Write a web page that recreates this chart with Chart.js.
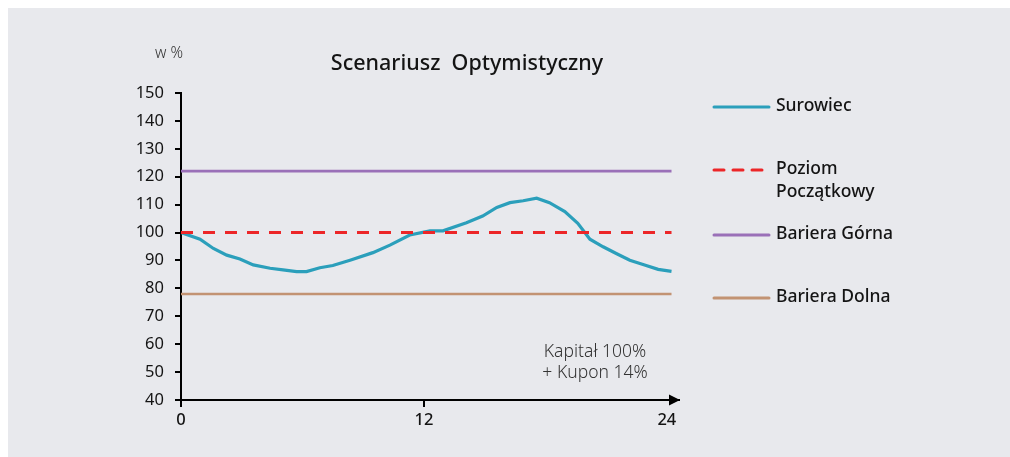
<!DOCTYPE html>
<html>
<head>
<meta charset="utf-8">
<script src="https://cdn.jsdelivr.net/npm/chart.js@4"></script>
<style>
  html, body { margin: 0; padding: 0; background: #fff; }
  #wrap { width: 1010px; height: 457px; position: relative; }
</style>
</head>
<body>
<div id="wrap"><canvas id="chart" width="1010" height="457"></canvas></div>
<script>
// months since start and the underlying price (in %)
const months = [0, 0.94, 1.6, 2.26, 2.91, 3.57, 4.4, 5.04, 5.71, 6.2, 6.86, 7.5, 8.35, 9.48, 10.32, 11.3,
  12.3, 12.94, 14.1, 14.9, 15.6, 16.25, 16.9, 17.57, 18.2, 18.96, 19.6, 20.2, 20.85, 21.5, 22.17, 22.9, 23.57, 24.23];
const surowiec = [100, 97.6, 94.3, 91.9, 90.5, 88.4, 87.2, 86.6, 86.0, 86.0, 87.4, 88.2, 90.1, 92.8, 95.5, 99.1,
  100.6, 100.6, 103.5, 105.9, 109, 110.7, 111.4, 112.3, 110.7, 107.5, 103.3, 97.6, 94.9, 92.5, 90.1, 88.4, 86.8, 86.1];

const levelSpan = [0, 24.23];
const poziomPoczatkowy = 100;
const barieraGorna = 122;
const barieraDolna = 78;

const yTicks = { min: 40, max: 150, step: 10 };
const xTickValues = [0, 12, 24];

const title = 'Scenariusz  Optymistyczny';
const unitLabel = 'w %';
const note = ['Kapitał 100%', '+ Kupon 14%'];

const FONT = '"Noto Sans", "Open Sans", sans-serif';
const INK = '#141414';

const toXY = (xs, ys) => xs.map((x, i) => ({ x: x, y: ys[i] }));
const flat = v => toXY(levelSpan, levelSpan.map(() => v));

// ===== background, title, arrow, legend, note =====
const decorPlugin = {
  id: 'decor',
  beforeDraw(chart) {
    const ctx = chart.ctx;
    ctx.save();
    ctx.fillStyle = '#e8e9ed';
    ctx.fillRect(8, 8, chart.width - 8, chart.height - 8);
    ctx.restore();
  },
  afterDraw(chart) {
    const ctx = chart.ctx;
    const area = chart.chartArea;
    ctx.save();

    // title
    ctx.fillStyle = INK;
    ctx.font = '500 21.5px ' + FONT;
    ctx.textAlign = 'center';
    ctx.textBaseline = 'middle';
    ctx.fillText(title, 467, 64);

    // unit
    ctx.font = '300 15.5px ' + FONT;
    ctx.fillStyle = '#333';
    ctx.fillText(unitLabel, 169, 54);

    // arrow head at end of x axis
    const ay = area.bottom;
    ctx.fillStyle = '#000';
    ctx.beginPath();
    ctx.moveTo(area.right + 1, ay);
    ctx.lineTo(area.right - 10, ay - 5.5);
    ctx.lineTo(area.right - 10, ay + 5.5);
    ctx.closePath();
    ctx.fill();

    // note
    ctx.font = '300 17.5px ' + FONT;
    ctx.fillStyle = '#333';
    ctx.fillText(note[0], 595, 352);
    ctx.fillText(note[1], 595, 373);

    // legend
    const lx0 = area.right + 35, lx1 = lx0 + 55, tx = lx1 + 7;
    const rows = [
      { ds: 0, lines: ['Surowiec'], y: 106 },
      { ds: 1, lines: ['Poziom', 'Początkowy'], y: 169 },
      { ds: 2, lines: ['Bariera Górna'], y: 234 },
      { ds: 3, lines: ['Bariera Dolna'], y: 297 }
    ];
    ctx.textAlign = 'left';
    ctx.font = '500 17.5px ' + FONT;
    rows.forEach(r => {
      const ds = chart.data.datasets[r.ds];
      ctx.strokeStyle = ds.borderColor;
      ctx.lineWidth = 3;
      ctx.lineCap = 'round';
      ctx.setLineDash(ds.borderDash ? [10, 9] : []);
      ctx.beginPath();
      ctx.moveTo(lx0, r.y + 1);
      ctx.lineTo(lx1, r.y + 1);
      ctx.stroke();
      ctx.setLineDash([]);
      ctx.fillStyle = INK;
      r.lines.forEach((t, i) => ctx.fillText(t, tx, r.y + i * 23));
    });
    ctx.restore();
  }
};

new Chart(document.getElementById('chart'), {
  type: 'line',
  data: {
    datasets: [
      { label: 'Surowiec', data: toXY(months, surowiec), borderColor: '#2b9fbb', borderWidth: 3.2, order: 4 },
      { label: 'Poziom Początkowy', data: flat(poziomPoczatkowy), borderColor: '#ec2628', borderWidth: 3, borderDash: [12, 10], order: 1 },
      { label: 'Bariera Górna', data: flat(barieraGorna), borderColor: '#9a70b8', borderWidth: 2.6, order: 2 },
      { label: 'Bariera Dolna', data: flat(barieraDolna), borderColor: '#c29373', borderWidth: 2.6, order: 3 }
    ]
  },
  options: {
    responsive: false,
    animation: false,
    devicePixelRatio: 1,
    layout: { padding: { left: 0, right: 331, top: 93, bottom: 0 } },
    elements: {
      point: { radius: 0 },
      line: { tension: 0, fill: false, borderCapStyle: 'butt' }
    },
    plugins: {
      legend: { display: false },
      title: { display: false },
      tooltip: { enabled: false }
    },
    scales: {
      x: {
        type: 'linear',
        min: 0,
        max: 24.6,
        afterBuildTicks: s => { s.ticks = xTickValues.map(v => ({ value: v })); },
        afterFit: s => { s.height = 57; },
        border: { display: true, color: '#000', width: 2 },
        grid: {
          drawOnChartArea: false,
          drawTicks: true,
          tickLength: 7,
          lineWidth: 2,
          color: ctx => (ctx.tick && ctx.tick.value === 24 ? 'rgba(0,0,0,0)' : '#000')
        },
        ticks: { color: INK, font: { family: FONT, size: 16.5, weight: '500' }, padding: 3, maxRotation: 0 }
      },
      y: {
        min: yTicks.min,
        max: yTicks.max,
        afterFit: s => { s.width = 181; },
        border: { display: true, color: '#000', width: 2 },
        grid: { drawOnChartArea: false, drawTicks: true, tickLength: 6, lineWidth: 2, color: '#000' },
        ticks: { stepSize: yTicks.step, color: INK, font: { family: FONT, size: 16.5 }, padding: 11 }
      }
    }
  },
  plugins: [decorPlugin]
});
</script>
</body>
</html>
